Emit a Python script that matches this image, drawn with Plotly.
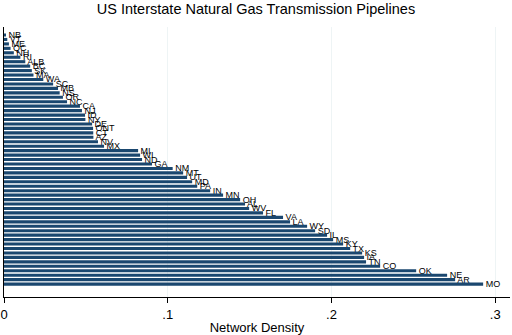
import plotly.graph_objects as go

# states / provinces, smallest density at the top
states = [
    "NB", "VT", "ME", "QC", "NH", "RI", "ALB", "BC", "SK", "MA",
    "WA", "SC", "MB", "NS", "OR", "NC", "CA", "NJ", "ID", "NY",
    "DE", "ONT", "CT", "AZ", "NV", "MX",
    "MI", "WI", "ND", "GA", "NM", "MT", "UT", "MD", "PA",
    "IN", "MN", "OH", "AL", "WV", "FL", "VA",
    "LA", "WY", "SD", "IL", "MS", "KY", "TX", "KS", "IA", "TN",
    "CO", "OK", "NE", "AR", "MO",
]
density = [
    0.001, 0.002, 0.003, 0.004, 0.006, 0.010, 0.013, 0.016, 0.017, 0.018,
    0.024, 0.030, 0.033, 0.034, 0.036, 0.0385, 0.0464, 0.0476, 0.0495, 0.0497,
    0.0538, 0.0544, 0.0545, 0.0546, 0.0574, 0.0611,
    0.0819, 0.0831, 0.0843, 0.0904, 0.103, 0.1094, 0.1118, 0.1149, 0.1180,
    0.1259, 0.1338, 0.1442, 0.1472, 0.1497, 0.1582, 0.1704,
    0.1747, 0.1851, 0.1900, 0.1973, 0.2010, 0.2071, 0.2114, 0.2187, 0.2199, 0.2211,
    0.2297, 0.2517, 0.2706, 0.2755, 0.2926,
]

tick_vals = [0, 0.1, 0.2, 0.3]
tick_text = ["0", ".1", ".2", ".3"]

fig = go.Figure()
fig.add_bar(
    x=density,
    y=states,
    orientation="h",
    marker_color="#1a476f",
    marker_line_width=0,
    text=[" " + s for s in states],
    textposition="outside",
    textfont=dict(size=9, color="#000"),
    constraintext="none",
    cliponaxis=False,
)
n = len(states)
fig.update_layout(
    width=512,
    height=335,
    font_family="Liberation Sans",
    paper_bgcolor="white",
    plot_bgcolor="white",
    showlegend=False,
    bargap=0.3,
    margin=dict(l=4, r=2, t=27, b=38),
    title=dict(
        text="US Interstate Natural Gas Transmission Pipelines",
        font=dict(size=14.5, color="#000"),
        x=0.5, xanchor="center", y=0.99, yanchor="top",
    ),
    xaxis=dict(
        range=[0, 0.309],
        automargin=False,
        tickvals=tick_vals,
        ticktext=tick_text,
        ticks="outside",
        ticklen=5,
        tickcolor="#000",
        tickfont=dict(size=13, color="#000"),
        showline=True,
        linecolor="#000",
        linewidth=1,
        showgrid=True,
        gridcolor="#eef4f5",
        zeroline=False,
        title=dict(text="Network Density", font=dict(size=13, color="#000"), standoff=2),
    ),
    yaxis=dict(
        range=[n + 1.9, -1.8],
        automargin=False,
        showticklabels=False,
        ticks="",
        showline=True,
        linecolor="#000",
        linewidth=1,
        showgrid=False,
    ),
)
# drop the browser's default body margin so the 512x335 figure fills the window
fig.write_html(
    "out.html",
    config={"displayModeBar": False},
    post_script="document.body.style.margin='0';",
)
